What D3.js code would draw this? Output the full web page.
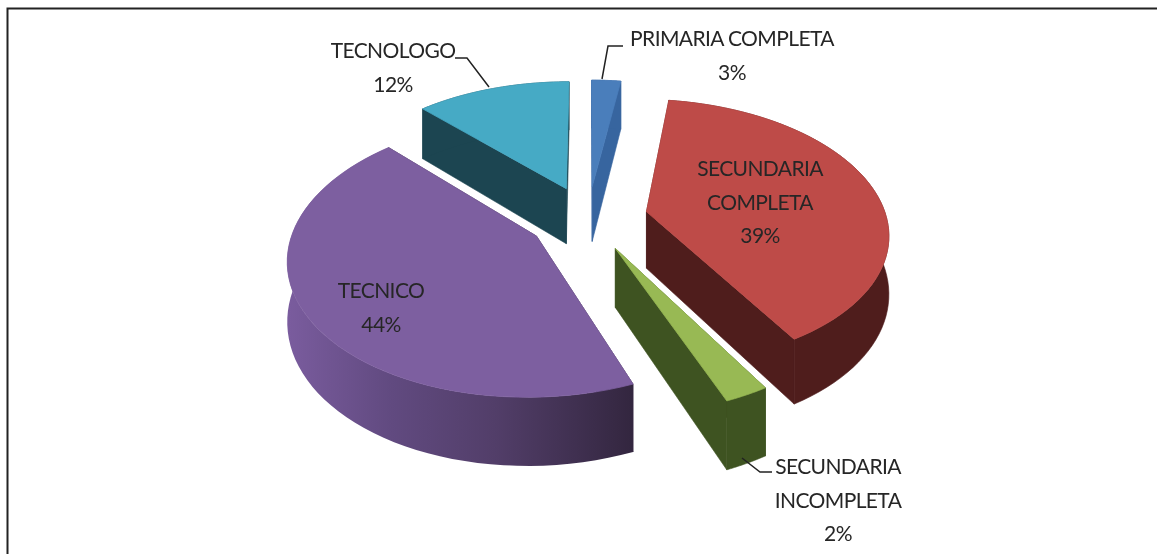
<!DOCTYPE html>
<html><head><meta charset="utf-8">
<script src="https://cdn.jsdelivr.net/npm/d3@7/dist/d3.min.js"></script>
<style>html,body{margin:0;background:#fff}svg{display:block;filter:blur(.4px)}text{font-family:Lato,"Open Sans",sans-serif;font-size:21px;fill:#262626;letter-spacing:-.6px}</style>
</head><body><svg id="c" width="1157" height="554"></svg>
<script>
const categories=["PRIMARIA COMPLETA","SECUNDARIA COMPLETA","SECUNDARIA INCOMPLETA","TECNICO","TECNOLOGO"];
const sliceValues=[2.3,39.2,2.5,43.8,12.2];
const percentLabels=["3%","39%","2%","44%","12%"];
const topColors=["#4a7ebb","#be4b48","#98b954","#7d5fa0","#46aac5"];
const sideColors=["#37659f","#4f1d1c","#3e5321","url(#pw)","#1c4551"];
const labelLines=[["PRIMARIA COMPLETA"],["SECUNDARIA","COMPLETA"],["SECUNDARIA","INCOMPLETA"],["TECNICO"],["TECNOLOGO"]];
const labelPos=[[732,46],[760,176],[838,474],[381,298],[393,58]];
const leaders=[[[623,46],[608,46],[602,79]],null,[[772,472],[760,472],[742,458]],null,[[455,58],[467,58],[489,87]]];

const svg=d3.select("#c");
const defs=svg.append("defs");
const g=defs.append("linearGradient").attr("id","pw");
[[0,"#7a5c9e"],[.3,"#614a80"],[.6,"#523e69"],[1,"#33263f"]].forEach(s=>g.append("stop").attr("offset",s[0]).attr("stop-color",s[1]));

svg.append("path").attr("d","M7.5,554V8.5H1157").attr("fill","none").attr("stroke","#222").attr("stroke-width",2);

// pie geometry in plane units → screen through a perspective projection
const cx=588,cy=218,rx=240,ry=131,k=.15,depth=57,explode=.25;
const proj=(px,py,dz=0)=>{const w=1/(1-k*py);return [cx+rx*px*w,cy+ry*py*w+depth*dz*w];};
const arcs=d3.pie().sort(null).value(d=>d)(sliceValues);
const line=d3.line();
const order=[4,0,1,3,2];
order.forEach(i=>{
  const a=arcs[i],b=(a.startAngle+a.endAngle)/2,ox=explode*Math.sin(b),oy=-explode*Math.cos(b);
  const ang=d3.range(0,61).map(t=>a.startAngle+(a.endAngle-a.startAngle)*t/60);
  const rim=ang.map(t=>[ox+Math.sin(t),oy-Math.cos(t)]);
  const P=(p,d)=>proj(p[0],p[1],d);
  const c=[ox,oy];
  const s=svg.append("g").attr("class","slice");
  const flat=sideColors[i]==="url(#pw)"?"#372a45":sideColors[i];
  const wall=pts=>s.append("path").attr("d",line(pts.map(p=>P(p,0)).concat(pts.slice().reverse().map(p=>P(p,1))))+"Z").attr("fill",flat).attr("stroke",flat).attr("stroke-width",.6);
  wall([c,rim[0]]); wall([c,rim[60]]);
  const o=s.append("path").attr("d",line(rim.map(p=>P(p,0)).concat(rim.slice().reverse().map(p=>P(p,1))))+"Z").attr("fill",sideColors[i]);
  if(sideColors[i]===flat)o.attr("stroke",flat).attr("stroke-width",.6);
  s.append("path").attr("d",line([P(c,0)].concat(rim.map(p=>P(p,0))))+"Z").attr("fill",topColors[i]).attr("stroke",topColors[i]).attr("stroke-width",.8);
});
leaders.forEach(l=>{if(l)svg.append("path").attr("d",line(l)).attr("fill","none").attr("stroke","#222").attr("stroke-width",1.5);});
labelLines.forEach((ls,i)=>{
  const t=svg.append("text").attr("text-anchor","middle").attr("transform",`translate(${labelPos[i]})`);
  ls.concat(percentLabels[i]).forEach((s,j)=>t.append("tspan").attr("x",0).attr("y",j*33.5).text(s));
});
</script></body></html>
